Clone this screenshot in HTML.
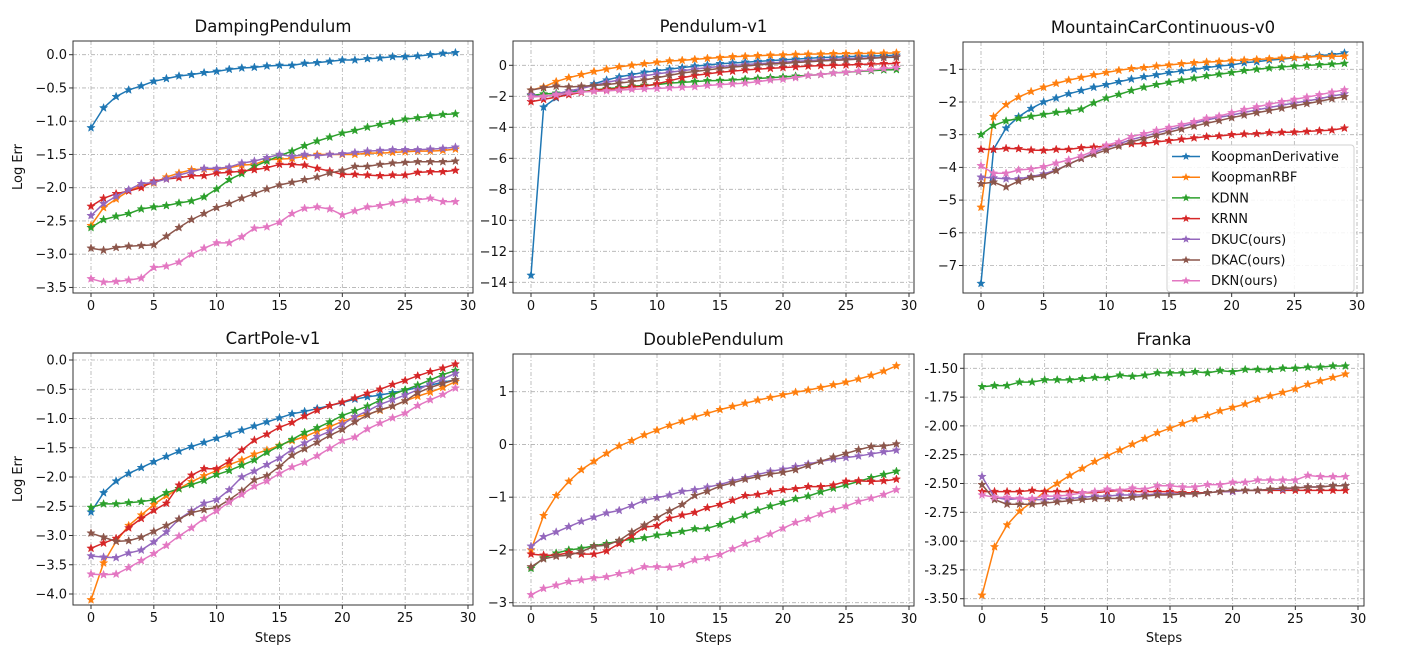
<!DOCTYPE html>
<html><head><meta charset="utf-8">
<style>
html,body{margin:0;padding:0;background:#fff;}
svg{display:block;font-family:"DejaVu Sans","Liberation Sans",sans-serif;}
</style></head>
<body>
<svg id="fig" width="1401" height="654" viewBox="0 0 1401 654" xmlns="http://www.w3.org/2000/svg"></svg>
<script>
const steps = Array.from({length:30},(_,i)=>i);
const seriesNames = ["KoopmanDerivative","KoopmanRBF","KDNN","KRNN","DKUC(ours)","DKAC(ours)","DKN(ours)"];
const seriesColors = ["#1f77b4","#ff7f0e","#2ca02c","#d62728","#9467bd","#8c564b","#e377c2"];

// DampingPendulum
const dpBlue=[-1.1,-0.8,-0.63,-0.53,-0.47,-0.4,-0.36,-0.32,-0.3,-0.27,-0.25,-0.22,-0.2,-0.19,-0.17,-0.16,-0.16,-0.13,-0.12,-0.1,-0.08,-0.08,-0.06,-0.05,-0.03,-0.03,-0.02,0.0,0.02,0.03];
const dpOrange=[-2.57,-2.3,-2.17,-2.05,-1.97,-1.93,-1.84,-1.78,-1.73,-1.72,-1.73,-1.7,-1.66,-1.65,-1.58,-1.57,-1.56,-1.53,-1.5,-1.5,-1.5,-1.5,-1.48,-1.48,-1.47,-1.46,-1.45,-1.45,-1.44,-1.42];
const dpGreen=[-2.6,-2.48,-2.43,-2.39,-2.32,-2.29,-2.27,-2.23,-2.2,-2.14,-2.02,-1.88,-1.79,-1.68,-1.6,-1.52,-1.45,-1.37,-1.3,-1.24,-1.18,-1.14,-1.09,-1.05,-1.01,-0.97,-0.95,-0.92,-0.9,-0.89];
const dpRed=[-2.28,-2.16,-2.09,-2.05,-2.0,-1.9,-1.87,-1.85,-1.82,-1.82,-1.78,-1.77,-1.75,-1.73,-1.7,-1.65,-1.65,-1.66,-1.71,-1.75,-1.8,-1.8,-1.81,-1.82,-1.81,-1.81,-1.77,-1.76,-1.76,-1.74];
const dpPurple=[-2.42,-2.24,-2.13,-2.03,-1.94,-1.92,-1.87,-1.81,-1.76,-1.71,-1.71,-1.69,-1.63,-1.6,-1.55,-1.5,-1.53,-1.5,-1.52,-1.5,-1.49,-1.47,-1.45,-1.44,-1.43,-1.43,-1.43,-1.42,-1.41,-1.39];
const dpBrown=[-2.91,-2.94,-2.9,-2.88,-2.87,-2.86,-2.73,-2.6,-2.48,-2.39,-2.3,-2.24,-2.16,-2.09,-2.02,-1.96,-1.92,-1.88,-1.84,-1.78,-1.74,-1.68,-1.68,-1.65,-1.63,-1.62,-1.61,-1.61,-1.61,-1.6];
const dpPink=[-3.37,-3.42,-3.41,-3.39,-3.36,-3.2,-3.18,-3.12,-3.0,-2.91,-2.83,-2.83,-2.74,-2.61,-2.59,-2.52,-2.39,-2.31,-2.29,-2.32,-2.41,-2.35,-2.29,-2.27,-2.23,-2.19,-2.18,-2.16,-2.21,-2.21];
// Pendulum-v1
const pvBlue=[-13.55,-2.7,-2.1,-1.8,-1.5,-1.2,-0.95,-0.75,-0.6,-0.45,-0.35,-0.25,-0.15,-0.05,0.02,0.1,0.15,0.2,0.25,0.3,0.35,0.4,0.45,0.5,0.52,0.55,0.58,0.6,0.62,0.65];
const pvOrange=[-1.6,-1.4,-1.05,-0.8,-0.6,-0.4,-0.25,-0.1,0.0,0.1,0.2,0.28,0.32,0.38,0.45,0.5,0.55,0.58,0.62,0.65,0.67,0.7,0.72,0.73,0.75,0.75,0.76,0.77,0.78,0.8];
const pvGreen=[-1.95,-1.85,-1.8,-1.75,-1.7,-1.6,-1.5,-1.45,-1.35,-1.3,-1.25,-1.15,-1.1,-1.05,-1.0,-0.98,-0.95,-0.9,-0.85,-0.8,-0.75,-0.7,-0.65,-0.6,-0.5,-0.45,-0.4,-0.35,-0.3,-0.28];
const pvRed=[-2.35,-2.2,-2.05,-1.9,-1.75,-1.6,-1.55,-1.5,-1.4,-1.35,-1.2,-1.0,-0.8,-0.65,-0.55,-0.45,-0.38,-0.3,-0.25,-0.2,-0.15,-0.1,-0.05,-0.02,0.0,0.02,0.05,0.08,0.1,0.12];
const pvPurple=[-1.9,-2.05,-1.85,-1.65,-1.5,-1.3,-1.1,-0.95,-0.8,-0.68,-0.55,-0.45,-0.35,-0.25,-0.15,-0.08,-0.02,0.05,0.1,0.15,0.2,0.25,0.3,0.35,0.38,0.42,0.45,0.48,0.5,0.55];
const pvBrown=[-1.6,-1.45,-1.35,-1.4,-1.35,-1.3,-1.25,-1.15,-1.05,-0.95,-0.8,-0.65,-0.5,-0.4,-0.3,-0.2,-0.12,-0.05,0.02,0.08,0.12,0.18,0.22,0.28,0.32,0.35,0.4,0.45,0.5,0.52];
const pvPink=[-2.05,-2.0,-1.9,-1.8,-1.72,-1.68,-1.65,-1.6,-1.55,-1.52,-1.5,-1.45,-1.42,-1.38,-1.3,-1.25,-1.2,-1.15,-1.05,-0.95,-0.9,-0.8,-0.65,-0.6,-0.5,-0.45,-0.38,-0.3,-0.22,-0.15];
// MountainCarContinuous-v0
const mcBlue=[-7.55,-3.45,-2.8,-2.45,-2.2,-2.0,-1.88,-1.75,-1.65,-1.55,-1.47,-1.38,-1.3,-1.23,-1.17,-1.1,-1.05,-1.0,-0.95,-0.9,-0.87,-0.8,-0.77,-0.72,-0.69,-0.65,-0.62,-0.58,-0.55,-0.5];
const mcOrange=[-5.22,-2.45,-2.08,-1.85,-1.68,-1.55,-1.43,-1.33,-1.25,-1.17,-1.1,-1.03,-0.98,-0.95,-0.9,-0.87,-0.83,-0.8,-0.78,-0.76,-0.73,-0.72,-0.7,-0.68,-0.66,-0.64,-0.63,-0.61,-0.6,-0.6];
const mcGreen=[-3.0,-2.72,-2.58,-2.5,-2.44,-2.38,-2.32,-2.28,-2.22,-2.03,-1.88,-1.77,-1.65,-1.55,-1.47,-1.4,-1.33,-1.27,-1.2,-1.15,-1.1,-1.04,-1.0,-0.96,-0.93,-0.9,-0.88,-0.86,-0.84,-0.82];
const mcRed=[-3.45,-3.45,-3.42,-3.43,-3.47,-3.48,-3.45,-3.45,-3.4,-3.38,-3.35,-3.3,-3.28,-3.27,-3.22,-3.18,-3.14,-3.1,-3.06,-3.04,-3.0,-2.98,-2.97,-2.94,-2.93,-2.92,-2.9,-2.88,-2.86,-2.8];
const mcPurple=[-4.3,-4.32,-4.35,-4.35,-4.28,-4.2,-4.08,-3.9,-3.73,-3.55,-3.4,-3.28,-3.15,-3.05,-2.95,-2.85,-2.75,-2.65,-2.55,-2.47,-2.4,-2.32,-2.24,-2.17,-2.1,-2.03,-1.97,-1.9,-1.82,-1.75];
const mcBrown=[-4.5,-4.45,-4.6,-4.42,-4.3,-4.25,-4.1,-3.9,-3.73,-3.6,-3.47,-3.35,-3.22,-3.12,-3.02,-2.92,-2.83,-2.74,-2.65,-2.57,-2.48,-2.4,-2.33,-2.26,-2.19,-2.12,-2.05,-1.98,-1.9,-1.84];
const mcPink=[-3.95,-4.18,-4.18,-4.08,-4.05,-3.98,-3.87,-3.77,-3.65,-3.5,-3.32,-3.22,-3.06,-2.97,-2.87,-2.78,-2.69,-2.6,-2.5,-2.43,-2.33,-2.23,-2.15,-2.07,-1.99,-1.92,-1.85,-1.78,-1.7,-1.63];
// CartPole-v1
const cpBlue=[-2.6,-2.27,-2.07,-1.94,-1.84,-1.74,-1.65,-1.56,-1.48,-1.41,-1.34,-1.27,-1.2,-1.13,-1.06,-0.99,-0.92,-0.88,-0.83,-0.78,-0.73,-0.67,-0.63,-0.6,-0.56,-0.52,-0.47,-0.43,-0.38,-0.34];
const cpOrange=[-4.1,-3.47,-3.1,-2.83,-2.65,-2.47,-2.32,-2.2,-2.08,-1.98,-1.89,-1.79,-1.71,-1.61,-1.54,-1.46,-1.38,-1.31,-1.22,-1.14,-1.05,-0.98,-0.93,-0.86,-0.79,-0.7,-0.62,-0.55,-0.47,-0.37];
const cpGreen=[-2.52,-2.46,-2.46,-2.44,-2.42,-2.39,-2.27,-2.2,-2.13,-2.06,-1.96,-1.89,-1.8,-1.71,-1.58,-1.47,-1.36,-1.24,-1.16,-1.06,-0.95,-0.87,-0.79,-0.69,-0.59,-0.51,-0.43,-0.34,-0.25,-0.18];
const cpRed=[-3.22,-3.13,-3.05,-2.87,-2.71,-2.57,-2.45,-2.14,-1.97,-1.86,-1.86,-1.73,-1.54,-1.37,-1.27,-1.15,-1.07,-0.96,-0.86,-0.78,-0.72,-0.65,-0.57,-0.5,-0.42,-0.35,-0.27,-0.2,-0.14,-0.07];
const cpPurple=[-3.35,-3.37,-3.38,-3.3,-3.25,-3.11,-2.94,-2.72,-2.58,-2.45,-2.39,-2.22,-2.0,-1.9,-1.79,-1.68,-1.53,-1.42,-1.31,-1.22,-1.1,-0.97,-0.87,-0.76,-0.68,-0.6,-0.51,-0.41,-0.32,-0.23];
const cpBrown=[-2.96,-3.03,-3.1,-3.09,-3.03,-2.93,-2.83,-2.72,-2.61,-2.56,-2.52,-2.39,-2.24,-2.05,-1.98,-1.82,-1.63,-1.52,-1.41,-1.29,-1.19,-1.06,-0.94,-0.85,-0.79,-0.7,-0.56,-0.47,-0.4,-0.34];
const cpPink=[-3.66,-3.67,-3.66,-3.55,-3.43,-3.31,-3.17,-3.01,-2.87,-2.71,-2.58,-2.43,-2.3,-2.16,-2.07,-1.94,-1.83,-1.75,-1.64,-1.51,-1.38,-1.32,-1.18,-1.08,-0.99,-0.91,-0.78,-0.68,-0.59,-0.48];
// DoublePendulum
const dbOrange=[-2.0,-1.35,-0.97,-0.7,-0.48,-0.32,-0.17,-0.03,0.07,0.18,0.27,0.36,0.44,0.52,0.59,0.66,0.72,0.78,0.84,0.89,0.94,0.99,1.03,1.08,1.13,1.18,1.24,1.31,1.39,1.49];
const dbGreen=[-2.35,-2.15,-2.06,-2.0,-1.97,-1.92,-1.88,-1.83,-1.8,-1.77,-1.72,-1.69,-1.65,-1.6,-1.59,-1.52,-1.43,-1.34,-1.25,-1.17,-1.1,-1.03,-0.98,-0.9,-0.83,-0.77,-0.7,-0.63,-0.57,-0.51];
const dbRed=[-2.08,-2.1,-2.1,-2.05,-2.08,-2.08,-2.02,-1.88,-1.73,-1.57,-1.54,-1.4,-1.34,-1.29,-1.2,-1.14,-1.06,-0.97,-0.95,-0.9,-0.86,-0.84,-0.8,-0.8,-0.77,-0.7,-0.69,-0.7,-0.69,-0.66];
const dbPurple=[-1.93,-1.75,-1.66,-1.56,-1.46,-1.38,-1.3,-1.25,-1.16,-1.06,-1.01,-0.96,-0.89,-0.86,-0.81,-0.76,-0.69,-0.63,-0.57,-0.51,-0.47,-0.42,-0.37,-0.32,-0.28,-0.25,-0.22,-0.18,-0.14,-0.11];
const dbBrown=[-2.32,-2.17,-2.12,-2.1,-2.03,-1.93,-1.91,-1.82,-1.66,-1.53,-1.39,-1.26,-1.14,-0.97,-0.89,-0.79,-0.73,-0.66,-0.61,-0.56,-0.53,-0.48,-0.4,-0.32,-0.24,-0.17,-0.1,-0.04,-0.03,0.01];
const dbPink=[-2.85,-2.73,-2.67,-2.6,-2.57,-2.53,-2.51,-2.45,-2.4,-2.32,-2.32,-2.33,-2.28,-2.19,-2.15,-2.09,-1.98,-1.88,-1.8,-1.7,-1.59,-1.48,-1.41,-1.32,-1.24,-1.17,-1.08,-1.02,-0.95,-0.86];
// Franka
const frOrange=[-3.47,-3.05,-2.86,-2.74,-2.66,-2.57,-2.5,-2.43,-2.37,-2.31,-2.26,-2.21,-2.16,-2.11,-2.06,-2.02,-1.98,-1.94,-1.91,-1.87,-1.84,-1.81,-1.77,-1.74,-1.71,-1.68,-1.64,-1.61,-1.58,-1.55];
const frGreen=[-1.66,-1.65,-1.65,-1.62,-1.62,-1.6,-1.6,-1.6,-1.59,-1.58,-1.58,-1.56,-1.57,-1.56,-1.54,-1.54,-1.54,-1.53,-1.54,-1.52,-1.53,-1.51,-1.51,-1.51,-1.5,-1.5,-1.49,-1.49,-1.48,-1.48];
const frRed=[-2.57,-2.57,-2.57,-2.57,-2.56,-2.57,-2.57,-2.57,-2.58,-2.58,-2.57,-2.56,-2.57,-2.57,-2.57,-2.57,-2.58,-2.58,-2.58,-2.57,-2.57,-2.56,-2.56,-2.56,-2.56,-2.56,-2.56,-2.56,-2.56,-2.56];
const frPurple=[-2.44,-2.62,-2.64,-2.63,-2.64,-2.64,-2.63,-2.63,-2.62,-2.61,-2.61,-2.6,-2.6,-2.6,-2.59,-2.59,-2.59,-2.59,-2.58,-2.57,-2.57,-2.56,-2.56,-2.55,-2.55,-2.54,-2.53,-2.53,-2.52,-2.52];
const frBrown=[-2.51,-2.64,-2.68,-2.68,-2.68,-2.67,-2.66,-2.65,-2.64,-2.63,-2.63,-2.63,-2.62,-2.61,-2.6,-2.6,-2.59,-2.59,-2.58,-2.57,-2.56,-2.56,-2.56,-2.55,-2.54,-2.54,-2.53,-2.53,-2.52,-2.52];
const frPink=[-2.6,-2.62,-2.62,-2.63,-2.63,-2.61,-2.61,-2.6,-2.58,-2.57,-2.55,-2.56,-2.54,-2.55,-2.52,-2.52,-2.53,-2.53,-2.51,-2.51,-2.49,-2.49,-2.47,-2.47,-2.47,-2.47,-2.43,-2.44,-2.44,-2.44];

const xTicks=[0,5,10,15,20,25,30];
const dpYTicks=[0,-0.5,-1,-1.5,-2,-2.5,-3,-3.5];
const pvYTicks=[0,-2,-4,-6,-8,-10,-12,-14];
const mcYTicks=[-1,-2,-3,-4,-5,-6,-7];
const cpYTicks=[0,-0.5,-1,-1.5,-2,-2.5,-3,-3.5,-4];
const dbYTicks=[1,0,-1,-2,-3];
const frYTicks=[-1.5,-1.75,-2,-2.25,-2.5,-2.75,-3,-3.25,-3.5];

const NS="http://www.w3.org/2000/svg";
const svg=document.getElementById('fig');
function mk(tag,attrs,parent){const e=document.createElementNS(NS,tag);for(const k in attrs)e.setAttribute(k,attrs[k]);(parent||svg).appendChild(e);return e;}
function star(cx,cy,r){let p=[];for(let k=0;k<10;k++){const a=-Math.PI/2+k*Math.PI/5;const rr=k%2?r*0.42:r;p.push((cx+rr*Math.cos(a)).toFixed(1)+','+(cy+rr*Math.sin(a)).toFixed(1));}return p.join(' ');}

const panels=[
 {key:'damping-pendulum',title:'DampingPendulum',f:[73,41,473,293],x0:91,x30:468,yRef:0,yRefPx:54.7,ppu:66.5,ticks:dpYTicks,fmt:v=>v.toFixed(1).replace('-','\u2212'),series:[dpBlue,dpOrange,dpGreen,dpRed,dpPurple,dpBrown,dpPink],ylab:true,xlab:false},
 {key:'pendulum-v1',title:'Pendulum-v1',f:[513,41,914,293],x0:531,x30:909,yRef:0,yRefPx:65.3,ppu:15.5,ticks:pvYTicks,fmt:v=>String(v).replace('-','\u2212'),series:[pvBlue,pvOrange,pvGreen,pvRed,pvPurple,pvBrown,pvPink],ylab:false,xlab:false},
 {key:'mountain-car',title:'MountainCarContinuous-v0',f:[963,42,1363,293],x0:981,x30:1357,yRef:-1,yRefPx:69.3,ppu:32.7,ticks:mcYTicks,fmt:v=>String(v).replace('-','\u2212'),series:[mcBlue,mcOrange,mcGreen,mcRed,mcPurple,mcBrown,mcPink],ylab:false,xlab:false},
 {key:'cartpole-v1',title:'CartPole-v1',f:[73,353,473,605],x0:91,x30:468,yRef:0,yRefPx:360,ppu:58.5,ticks:cpYTicks,fmt:v=>v.toFixed(1).replace('-','\u2212'),series:[cpBlue,cpOrange,cpGreen,cpRed,cpPurple,cpBrown,cpPink],ylab:true,xlab:true},
 {key:'double-pendulum',title:'DoublePendulum',f:[513,354,914,606],x0:531,x30:909,yRef:1,yRefPx:391.7,ppu:52.75,ticks:dbYTicks,fmt:v=>String(v).replace('-','\u2212'),series:[null,dbOrange,dbGreen,dbRed,dbPurple,dbBrown,dbPink],ylab:false,xlab:true},
 {key:'franka',title:'Franka',f:[964,354,1364,606],x0:982,x30:1358,yRef:-1.5,yRefPx:368.3,ppu:115.2,ticks:frYTicks,fmt:v=>v.toFixed(2),series:[null,frOrange,frGreen,frRed,frPurple,frBrown,frPink],ylab:false,xlab:true}
];

panels.forEach(P=>{
  const g=mk('g',{});
  
  
  const [L,T,R,B]=P.f;
  const xs=v=>P.x0+(P.x30-P.x0)*v/30;
  const ys=v=>P.yRefPx-(v-P.yRef)*P.ppu;
  const clipId='c-'+P.key;
  const cp=mk('clipPath',{id:clipId},g);mk('rect',{x:L,y:T,width:R-L,height:B-T},cp);
  // grid
  xTicks.forEach(t=>{const ln=mk('line',{x1:xs(t),x2:xs(t),y1:T,y2:B,stroke:'#b0b0b0','stroke-width':0.8,'stroke-dasharray':'4,2,1,2'},g);
    });
  P.ticks.forEach(t=>{const ln=mk('line',{x1:L,x2:R,y1:ys(t),y2:ys(t),stroke:'#b0b0b0','stroke-width':0.8,'stroke-dasharray':'4,2,1,2'},g);
    });
  // series
  const sg=mk('g',{'clip-path':'url(#'+clipId+')'},g);
  P.series.forEach((arr,si)=>{
    if(!arr)return;
    const col=seriesColors[si];
    const pl=mk('polyline',{points:arr.map((v,i)=>xs(steps[i])+','+ys(v)).join(' '),fill:'none',stroke:col,'stroke-width':1.5,'stroke-linejoin':'round'},sg);
    
    
    arr.forEach((v,i)=>{const m=mk('polygon',{points:star(xs(steps[i]),ys(v),4.3),fill:col,stroke:col,'stroke-width':0.5},sg);
      });
  });
  // frame
  const fr=mk('rect',{x:L,y:T,width:R-L,height:B-T,fill:'none',stroke:'#333','stroke-width':1},g);
  
  // ticks
  xTicks.forEach(t=>{mk('line',{x1:xs(t),x2:xs(t),y1:B,y2:B+4,stroke:'#333'},g);
    const tx=mk('text',{x:xs(t),y:B+17,'font-size':13,'text-anchor':'middle',fill:'#111'},g);tx.textContent=t;
    });
  P.ticks.forEach(t=>{mk('line',{x1:L-4,x2:L,y1:ys(t),y2:ys(t),stroke:'#333'},g);
    const tx=mk('text',{x:L-6,y:ys(t)+4.5,'font-size':13,'text-anchor':'end',fill:'#111'},g);tx.textContent=P.fmt(t);
    });
  const ti=mk('text',{x:(L+R)/2,y:T-9,'font-size':16.5,'text-anchor':'middle',fill:'#111'},g);ti.textContent=P.title;
  
  if(P.ylab){const yl=mk('text',{x:0,y:0,'font-size':13,'text-anchor':'middle',fill:'#111',transform:'translate(22,'+((T+B)/2)+') rotate(-90)'},g);yl.textContent='Log Err';
    }
  if(P.xlab){const xl=mk('text',{x:(L+R)/2,y:642,'font-size':13,'text-anchor':'middle',fill:'#111'},g);xl.textContent='Steps';
    }
});

// legend
const lg=mk('g',{});


mk('rect',{x:1167,y:145,width:187,height:147,rx:3,fill:'#fff','fill-opacity':0.85,stroke:'#d0d0d0'},lg);
seriesNames.forEach((n,i)=>{
  const y=156.5+i*20.7;const e=mk('g',{},lg);
  
  
  mk('line',{x1:1172,x2:1200,y1:y,y2:y,stroke:seriesColors[i],'stroke-width':1.5},e);
  mk('polygon',{points:star(1186,y,4.3),fill:seriesColors[i]},e);
  const t=mk('text',{x:1211,y:y+4.5,'font-size':13,fill:'#111'},e);t.textContent=n;
});
</script>
</body></html>
